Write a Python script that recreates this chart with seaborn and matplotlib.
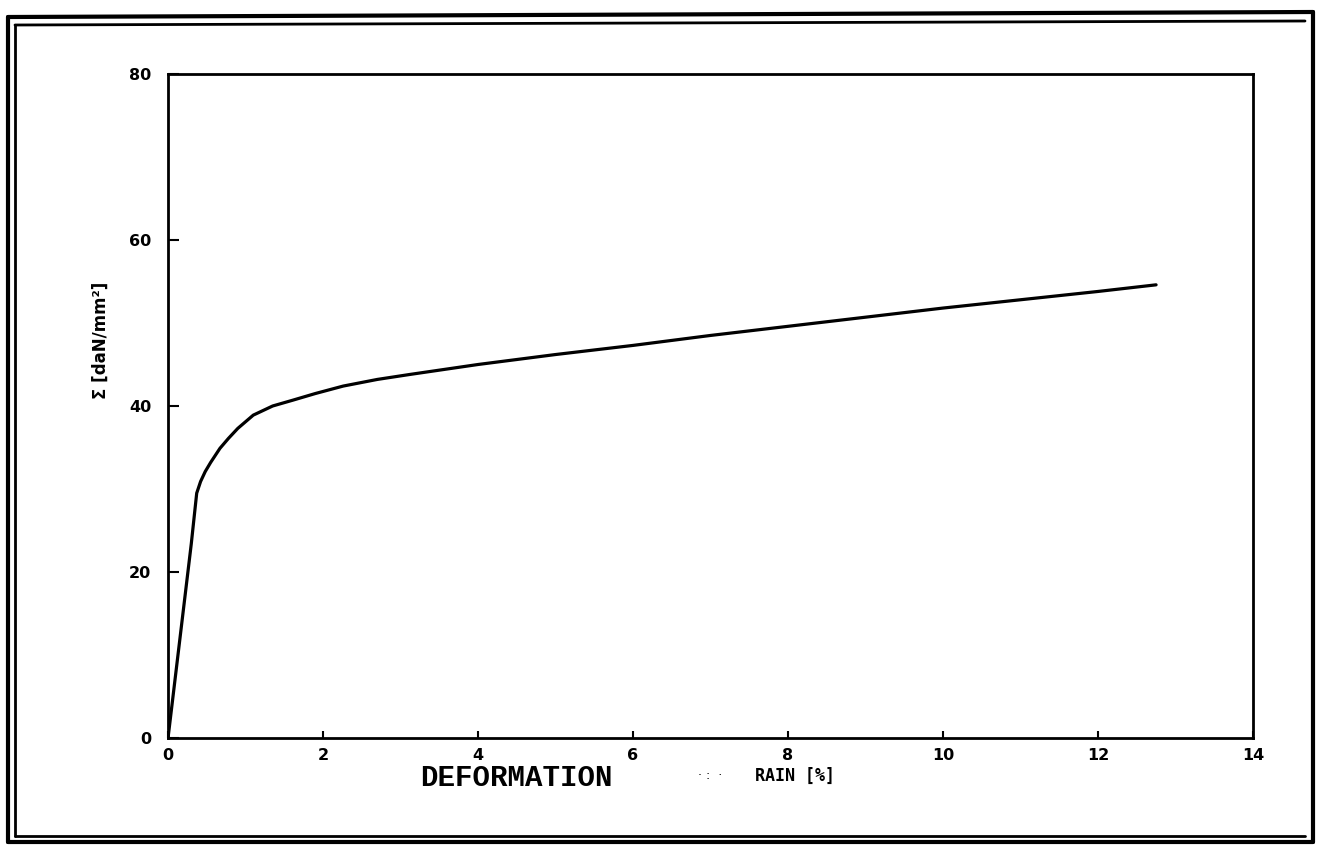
import numpy as np
import pandas as pd
import seaborn as sns
import matplotlib.pyplot as plt
from matplotlib.lines import Line2D

# stress-strain curve
strain = [0.0, 0.10, 0.20, 0.30, 0.37, 0.42, 0.48, 0.55, 0.67, 0.78, 0.90, 1.10, 1.35,
          1.61, 1.90, 2.26, 2.70, 3.12, 4.0, 5.0, 6.0, 7.0, 8.0, 9.0, 10.0, 11.0, 12.0, 12.75]
stress = [0.0, 7.8, 15.6, 23.4, 29.5, 30.9, 32.1, 33.2, 34.9, 36.1, 37.3, 38.9, 40.0,
          40.7, 41.5, 42.4, 43.2, 43.8, 45.0, 46.2, 47.3, 48.5, 49.6, 50.7, 51.8, 52.8, 53.8, 54.6]
x_ticks = [0, 2, 4, 6, 8, 10, 12, 14]
y_ticks = [0, 20, 40, 60, 80]

df = pd.DataFrame({"strain": strain, "stress": stress})

sns.set_theme(style="white")
plt.rcParams['font.family'] = ['DejaVu Sans']

fig = plt.figure(figsize=(13.2, 8.46), dpi=100)
ax = fig.add_axes([0.1273, 0.1277, 0.8219, 0.7848])

sns.lineplot(data=df, x="strain", y="stress", sort=False, color="black",
             linewidth=2.3, ax=ax)

ax.set_xlim(0, 14)
ax.set_ylim(0, 80)
ax.set_xticks(x_ticks)
ax.set_yticks(y_ticks)
ax.set_xticklabels([str(t) for t in x_ticks], fontsize=11.5, fontweight="bold")
ax.set_yticklabels([str(t) for t in y_ticks], fontsize=11.5, fontweight="bold")
ax.tick_params(axis="x", direction="in", length=5, width=1.5, pad=7, colors="black")
ax.tick_params(axis="y", direction="in", length=8, width=1.5, pad=12, colors="black")
ax.tick_params(bottom=True, left=True)
for s in ax.spines.values():
    s.set_color("black")
    s.set_linewidth(2.0)
ax.set_xlabel("")
ax.set_ylabel("")

# y label
fig.text(0.076, 0.598, "\u03a3 [daN/mm\u00b2]", rotation=90, ha="center", va="center",
         fontsize=12, fontweight="bold", color="black")

# x label (partly erased in the scan)
fig.text(0.318, 0.080, "DEFORMATION", ha="left", va="center", fontsize=21,
         fontweight="bold", family="Liberation Mono", color="black")
fig.text(0.538, 0.083, "\u00b7 :  \u00b7", ha="center", va="center", fontsize=9, color="black")
fig.text(0.572, 0.083, "RAIN [%]", ha="left", va="center", fontsize=12,
         fontweight="bold", family="DejaVu Sans Mono", color="black")

# double frame around the page
W, H = 1320, 846
def line(x0, y0, x1, y1, lw):
    fig.add_artist(Line2D([x0 / W, x1 / W], [1 - y0 / H, 1 - y1 / H], color="black",
                          linewidth=lw, transform=fig.transFigure))

line(8, 17, 1313, 12, 3)
line(15, 25, 1305, 21, 2)
line(8, 17, 8, 842, 3)
line(15, 25, 15, 836, 2)
line(1313, 12, 1313, 842, 3)
line(8, 842, 1313, 842, 3)
line(15, 836, 1305, 836, 2)

fig.savefig("out.png", dpi=100, facecolor="white")
